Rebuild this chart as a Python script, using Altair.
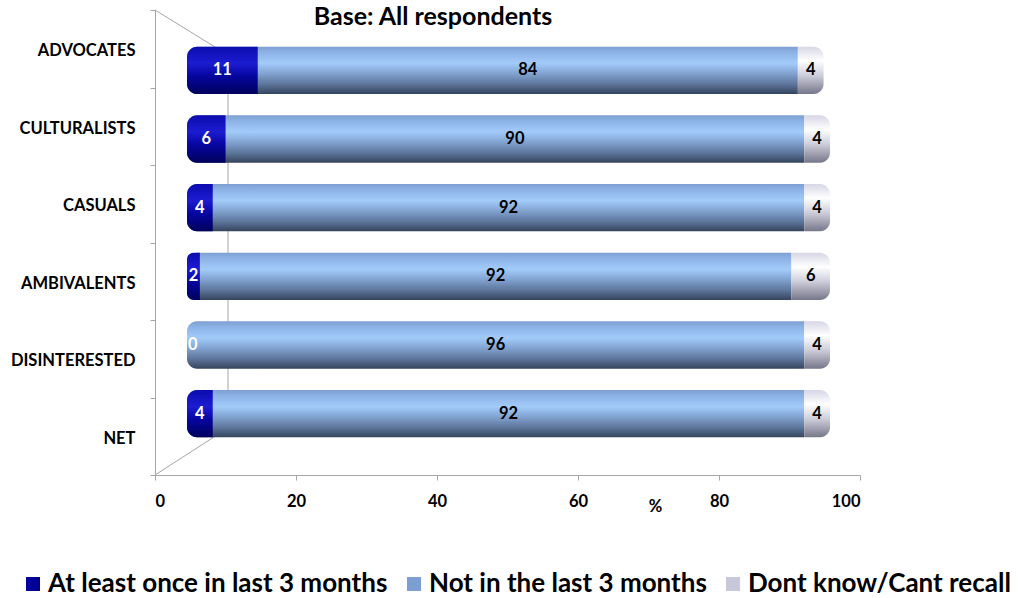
import altair as alt
import pandas as pd

# ---- data ----------------------------------------------------------------
categories = ["ADVOCATES", "CULTURALISTS", "CASUALS", "AMBIVALENTS", "DISINTERESTED", "NET"]
at_least = [11, 6, 4, 2, 0, 4]
not_recent = [84, 90, 92, 92, 96, 92]
dont_know = [4, 4, 4, 6, 4, 4]
series = ["At least once in last 3 months", "Not in the last 3 months", "Dont know/Cant recall"]
legend_colors = ["#000099", "#7b9fd0", "#c8c8dc"]
x_ticks = [0, 20, 40, 60, 80, 100]
title_text = ["Base: All respondents"]

FONT = "Lato"
AXIS_GREY = "#a6a6a6"

rows = []
for cat, a, n, d in zip(categories, at_least, not_recent, dont_know):
    start = 0
    for s, v in zip(series, (a, n, d)):
        rows.append({"category": cat, "series": s, "value": v,
                     "start": start, "end": start + v, "mid": start + v / 2,
                     "row_start": 0, "row_mid_end": a + n})
        start += v
df = pd.DataFrame(rows)
one = pd.DataFrame({"t": title_text})

# ---- scales: the cylinders sit on an inset (perspective) plane ---------------
bar_x = alt.Scale(domain=[0, 100], range=[32, 675], nice=False)
bar_y = alt.Scale(type="band", domain=categories, range=[26, 438],
                  paddingInner=0.31, paddingOuter=0.155)


def grad(stops):
    return alt.LinearGradient(
        gradient="linear", x1=0, x2=0, y1=0, y2=1,
        stops=[alt.GradientStop(color=c, offset=o) for o, c in stops])


blue_dark = grad([(0, "#0c0cae"), (0.35, "#1c1cd2"), (0.62, "#0606a0"), (1, "#00005c")])
blue_light = grad([(0, "#7e9fd0"), (0.12, "#8db2e6"), (0.35, "#a2cbfa"),
                   (0.55, "#84a6d4"), (0.8, "#5c7499"), (1, "#34445c")])
grey_end = grad([(0, "#d6d6e6"), (0.3, "#ffffff"), (0.6, "#cfcfdc"), (1, "#76768a")])

# ---- 3-D frame lines (back wall and floor/ceiling edges) --------------------
frame = alt.Chart(one)
wall = frame.mark_rule(color=AXIS_GREY, strokeWidth=1).encode(
    x=alt.value(73), y=alt.value(45), y2=alt.value(418))
top_edge = frame.mark_rule(color=AXIS_GREY, strokeWidth=1).encode(
    x=alt.value(0), y=alt.value(0), x2=alt.value(73), y2=alt.value(45))
floor_edge = frame.mark_rule(color=AXIS_GREY, strokeWidth=1).encode(
    x=alt.value(0), y=alt.value(465), x2=alt.value(73), y2=alt.value(418))

# ---- axes -------------------------------------------------------------------
axes = alt.Chart(df).mark_bar(opacity=0).encode(
    x=alt.X("mid:Q", scale=alt.Scale(domain=[0, 100], nice=False),
            axis=alt.Axis(orient="bottom", values=x_ticks, title="%", grid=False,
                          domainColor=AXIS_GREY, tickColor=AXIS_GREY, tickSize=5,
                          labelFont=FONT, labelFontSize=16.5, labelFontWeight="bold",
                          labelColor="black", labelPadding=13,
                          titleFont=FONT, titleFontSize=16.5, titleFontWeight="bold",
                          titleColor="black", titleX=500, titleY=31,
                          titleBaseline="middle")),
    y=alt.Y("category:N",
            scale=alt.Scale(type="band", domain=categories, paddingInner=0, paddingOuter=0),
            axis=alt.Axis(orient="left", title=None, tickBand="extent", grid=False,
                          domainColor=AXIS_GREY, tickColor=AXIS_GREY, tickSize=5,
                          labelFont=FONT, labelFontSize=16.5, labelFontWeight="bold",
                          labelColor="black", labelPadding=15, labelOffset=2)),
)

# ---- cylinder segments --------------------------------------------------------
ybar = alt.Y("category:N", scale=bar_y, axis=None)

middle = alt.Chart(df).transform_filter(alt.datum.series == series[1]).mark_bar(
    color=blue_light, cornerRadiusTopLeft=10, cornerRadiusBottomLeft=10).encode(
    x=alt.X("row_start:Q", scale=bar_x, axis=None), x2="row_mid_end:Q", y=ybar)

first = alt.Chart(df).transform_filter(
    (alt.datum.series == series[0]) & (alt.datum.value > 0)).mark_bar(
    color=blue_dark, cornerRadiusTopLeft=10, cornerRadiusBottomLeft=10).encode(
    x=alt.X("start:Q", scale=bar_x, axis=None), x2="end:Q", y=ybar)

last = alt.Chart(df).transform_filter(alt.datum.series == series[2]).mark_bar(
    color=grey_end, cornerRadiusTopRight=10, cornerRadiusBottomRight=10).encode(
    x=alt.X("start:Q", scale=bar_x, axis=None), x2="end:Q", y=ybar)


def labels(cond, colour, field="mid", align="center", dx=0):
    return alt.Chart(df).transform_filter(cond).mark_text(
        font=FONT, fontSize=16.5, fontWeight="bold", color=colour,
        align=align, baseline="middle", dx=dx).encode(
        x=alt.X(f"{field}:Q", scale=bar_x, axis=None), y=ybar, text="value:Q")


first_labels = labels((alt.datum.series == series[0]) & (alt.datum.value > 0), "white")
# a zero share has no width: its label sits just inside the cylinder's end
zero_labels = labels((alt.datum.series == series[0]) & (alt.datum.value == 0), "white",
                     field="start", align="left", dx=1)
middle_labels = labels(alt.datum.series == series[1], "black")
last_labels = labels(alt.datum.series == series[2], "black")

# ---- legend (carried by an invisible layer) ------------------------------------
legend_layer = alt.Chart(df).mark_square(opacity=0).encode(
    x=alt.X("mid:Q", scale=bar_x, axis=None), y=ybar,
    color=alt.Color("series:N", scale=alt.Scale(domain=series, range=legend_colors),
                    legend=alt.Legend(orient="none", legendX=-135, legendY=561,
                                      direction="horizontal", title=None,
                                      symbolType="square", symbolSize=196,
                                      symbolOpacity=1, symbolStrokeWidth=0,
                                      labelFont=FONT, labelFontSize=26,
                                      labelFontWeight="bold", labelColor="black",
                                      labelLimit=600, labelOffset=2,
                                      columnPadding=13)))

title = alt.Chart(one).mark_text(font=FONT, fontSize=25, fontWeight="bold",
                                 color="black", align="center", baseline="alphabetic").encode(
    x=alt.value(278), y=alt.value(15), text="t:N")

chart = alt.layer(
    wall, top_edge, floor_edge, axes,
    middle, first, last,
    first_labels, zero_labels, middle_labels, last_labels,
    legend_layer, title,
).resolve_scale(x="independent", y="independent").properties(
    width=705, height=465,
    autosize=alt.AutoSizeParams(type="none"),
    padding={"left": 155, "top": 10, "right": 158, "bottom": 123},
    background="white",
).configure_view(stroke=None)

chart.save("out.html", embed_options={"renderer": "svg", "actions": False})
